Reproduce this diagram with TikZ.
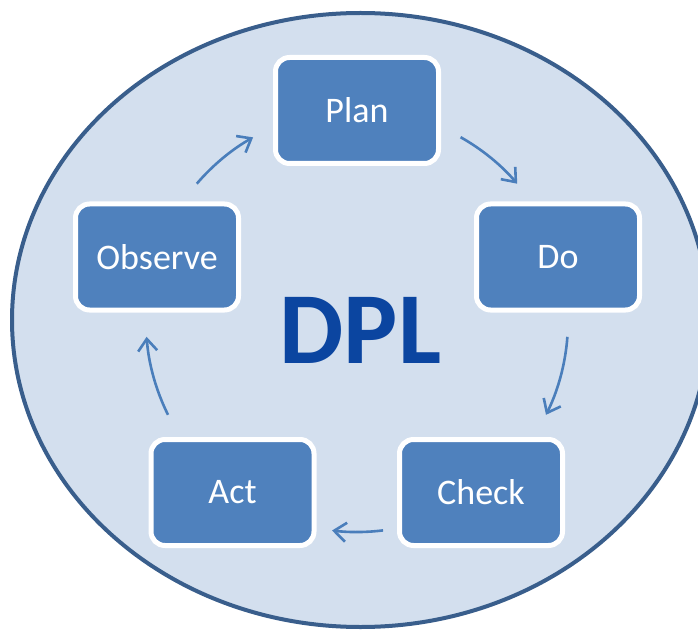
\documentclass[tikz,border=0pt]{standalone}
\usepackage{fontspec}
\setmainfont{Carlito}
\usetikzlibrary{arrows.meta,calc}
\definecolor{ellfill}{HTML}{D3DFEE}
\definecolor{elldraw}{HTML}{395E8C}
\definecolor{boxfill}{HTML}{4F81BD}
\definecolor{arrcol}{HTML}{4A7EBB}
\definecolor{dplcol}{HTML}{0B45A0}
\tikzset{
  stepbox/.style={draw=white, line width=5pt, fill=boxfill, rounded corners=14pt,
    minimum width=163pt, minimum height=106pt, inner sep=0pt, text=white,
    font=\fontsize{36}{40}\selectfont},
  cyclearrow/.style={draw=arrcol, line width=2.6pt,
    -{Straight Barb[length=12pt,width=19pt,line width=2.6pt]}}
}
\begin{document}
\begin{tikzpicture}[x=1pt,y=1pt]
\useasboundingbox (0,0) rectangle (698,630);
\clip (0,0) rectangle (698,630);
\draw[fill=ellfill, draw=elldraw, line width=4pt] (360.5,310) ellipse [x radius=348.5, y radius=307];
\node[stepbox] (plan) at (357,519.5) {Plan};
\node[stepbox] (do) at (558,373) {Do};
\node[stepbox] (check) at (481,137.5) {Check};
\node[stepbox] (act) at (232.5,137.5) {Act};
\node[stepbox] (observe) at (157,373) {Observe};
\node[anchor=base, inner sep=0pt, text=dplcol, font=\fontsize{102}{110}\selectfont\bfseries] (dpl) at (360.5,267) {DPL};
\coordinate (C) at (357,309);
\coordinate (a1) at ($(C)+(139.4:211)$);
\coordinate (a2) at ($(C)+(60.6:211)$);
\coordinate (a3) at ($(C)+(-4.3:211)$);
\coordinate (a4) at ($(C)+(-82.9:211)$);
\coordinate (a5) at ($(C)+(206.4:211)$);
\draw[cyclearrow] (a1) arc[start angle=139.4, end angle=119.5, radius=211];
\draw[cyclearrow] (a2) arc[start angle=60.6, end angle=40.6, radius=211];
\draw[cyclearrow] (a3) arc[start angle=-4.3, end angle=-26.4, radius=211];
\draw[cyclearrow] (a4) arc[start angle=-82.9, end angle=-96.8, radius=211];
\draw[cyclearrow] (a5) arc[start angle=206.4, end angle=184.3, radius=211];
\end{tikzpicture}
\end{document}
